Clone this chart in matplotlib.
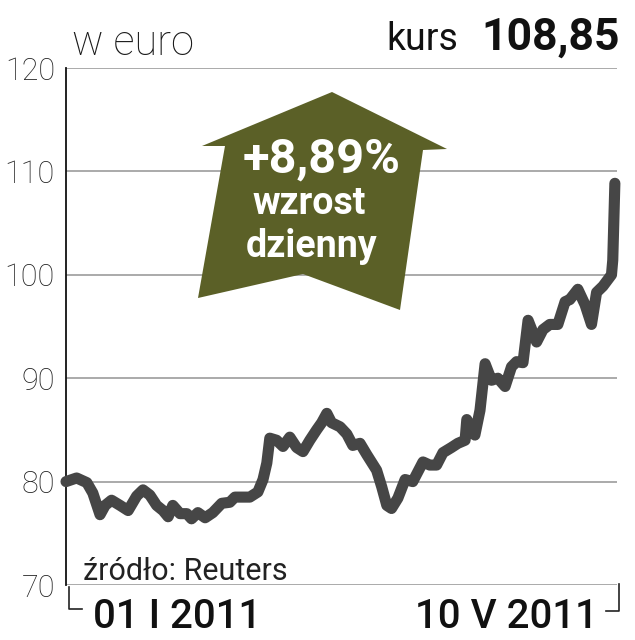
import matplotlib
matplotlib.use("Agg")
import matplotlib.pyplot as plt
from matplotlib.patches import Polygon
from matplotlib.lines import Line2D

# days since 01 I 2011 and price in euro
days = [0, 2.5, 4.9, 6.3, 8.0, 9.2, 10.7, 12.7, 14.6, 16.6, 18.1, 19.7, 21.3, 22.8,
        24.0, 25.1, 26.8, 28.4, 29.5, 31.0, 32.7, 34.5, 36.6, 38.5, 39.7, 41.6, 43.2,
        45.1, 46.3, 47.2, 47.9, 49.5, 51.0, 52.6, 54.2, 55.7, 57.3, 58.9, 60.1, 61.3,
        62.4, 64.4, 66.0, 67.4, 69.1, 70.7, 73.0, 74.2, 75.4, 76.5, 78.0, 79.7, 81.5,
        83.9, 85.5, 87.1, 88.6, 90.6, 92.1, 93.8, 94.2, 96.1, 97.3, 98.5, 100.0, 101.5,
        103.2, 104.7, 105.9, 107.4, 108.6, 110.6, 112.1, 113.7, 115.6, 117.3, 118.4,
        120.3, 122.0, 123.5, 124.7, 126.2, 128.2, 128.5, 129.0]
price = [80.0, 80.35, 79.9, 78.9, 76.8, 77.7, 78.2, 77.7, 77.2, 78.6, 79.2, 78.7, 77.7,
         77.2, 76.6, 77.7, 76.9, 76.9, 76.4, 77.0, 76.5, 77.0, 77.9, 78.0, 78.5, 78.5,
         78.5, 79.0, 80.2, 81.8, 84.2, 84.0, 83.4, 84.3, 83.3, 82.9, 84.0, 85.0, 85.7,
         86.6, 85.7, 85.3, 84.6, 83.5, 83.7, 82.6, 81.1, 79.5, 77.7, 77.4, 78.4, 80.2,
         80.0, 81.9, 81.6, 81.6, 82.8, 83.3, 83.7, 84.0, 86.0, 84.5, 86.9, 91.4, 89.8,
         90.0, 89.2, 91.1, 91.6, 91.5, 95.6, 93.5, 94.7, 95.2, 95.2, 97.4, 97.6, 98.6,
         97.1, 95.2, 98.3, 98.9, 100.0, 101.4, 108.85]
yticks = [70, 80, 90, 100, 110, 120]
unit_label = "w euro"
last_price = "108,85"
change_lines = ["+8,89%", "wzrost", "dzienny"]
date_labels = ["01 I 2011", "10 V 2011"]
source = "źródło: Reuters"

W, H = 635, 640
FONT = ["Roboto", "DejaVu Sans"]


def px(x, y):
    return x / W, 1 - y / H


fig = plt.figure(figsize=(W / 100, H / 100), dpi=100)
fig.patch.set_facecolor("white")
ax = fig.add_axes([66 / W, 1 - 585 / H, (617 - 66) / W, (585 - 68) / H])

grid_c = "#a4a4a4"
for v in yticks:
    ax.axhline(v, color=grid_c, lw=1.3, zorder=1)
ax.plot(days, price, color="#464646", lw=8, solid_capstyle="round",
        solid_joinstyle="round", zorder=3, clip_on=False)

ax.set_xlim(0, 129.5)
ax.set_ylim(70, 120)
ax.set_xticks([])
ax.set_yticks(yticks)
ax.set_yticklabels([str(v) for v in yticks], family=FONT,
                   fontweight="light", fontsize=22, color="#222222")
ax.tick_params(axis="y", length=0, pad=8)
for s in ["top", "right", "bottom"]:
    ax.spines[s].set_visible(False)
ax.spines["left"].set_color("#111111")
ax.spines["left"].set_linewidth(1.3)

# brackets under the axis
for xs, ys in [((69, 69, 82), (587, 609, 609)), ((619, 619, 606), (584, 611, 611))]:
    fig.add_artist(Line2D([x / W for x in xs], [1 - y / H for y in ys],
                          color="#222222", lw=1.2))

# arrow
arrow_px = [(332, 92), (447, 149), (423, 150), (400, 310), (303, 274), (198, 298),
            (225, 146), (202, 146)]
fig.add_artist(Polygon([px(x, y) for x, y in arrow_px], closed=True,
                       facecolor="#5b6027", edgecolor="none", zorder=5))

bold = dict(family=FONT, fontweight="bold", color="white",
            ha="center", va="baseline", zorder=6)
fig.text(*px(322, 173), change_lines[0], fontsize=35, **bold)
fig.text(*px(309, 214), change_lines[1], fontsize=27, **bold)
fig.text(*px(312, 257), change_lines[2], fontsize=27, **bold)

fig.text(*px(72, 55), unit_label, family=FONT, fontweight="light",
         fontsize=30, color="#1a1a1a", va="baseline")
fig.text(*px(620, 50), last_price, family=FONT, fontweight="bold",
         fontsize=32, color="#111111", ha="right", va="baseline")
fig.text(*px(458, 50), "kurs", family=FONT, fontsize=27,
         color="#111111", ha="right", va="baseline")

fig.text(*px(83, 580), source, family=FONT, fontsize=22,
         color="#222222", va="baseline")
fig.text(*px(93, 628), date_labels[0], family=FONT,
         fontweight="medium", fontsize=29, color="#111111", va="baseline")
fig.text(*px(598, 628), date_labels[1], family=FONT,
         fontweight="medium", fontsize=29, color="#111111", ha="right", va="baseline")

fig.savefig("out.png", dpi=100, facecolor="white")
